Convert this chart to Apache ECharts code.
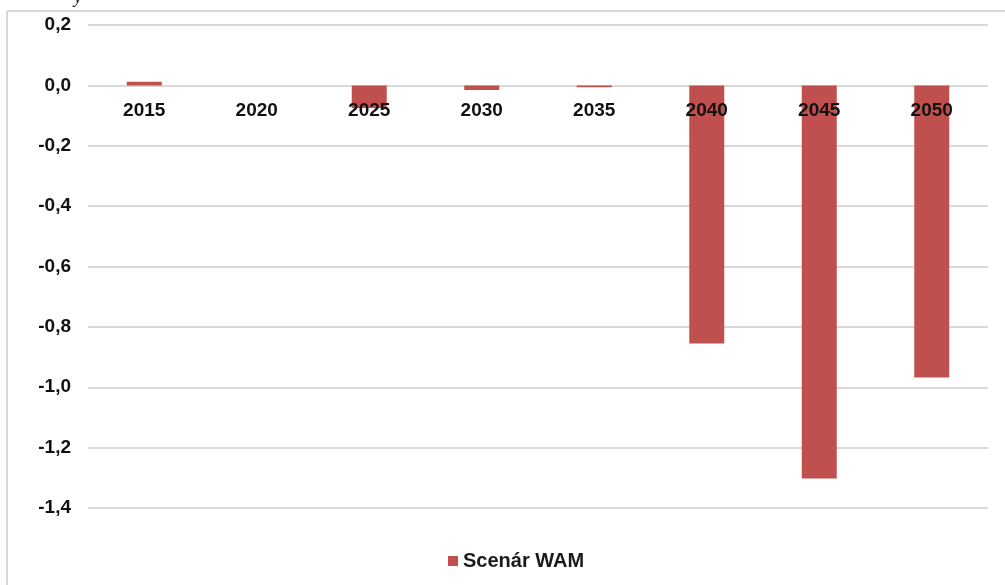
<!DOCTYPE html>
<html>
<head>
<meta charset="utf-8">
<script src="https://cdn.jsdelivr.net/npm/echarts@6/dist/echarts.min.js"></script>
<style>html,body{margin:0;padding:0;background:#fff;}#c{width:1005px;height:585px;}</style>
</head>
<body>
<div id="c"></div>
<script>
const categories = ['2015','2020','2025','2030','2035','2040','2045','2050'];
const wamValues = [0.012, 0.0, -0.075, -0.015, -0.006, -0.855, -1.302, -0.968];
const seriesName = 'Scenár WAM';
const yMin = -1.4, yMax = 0.2, yStep = 0.2;

const FONT = 'Liberation Sans, Arial, sans-serif';
const GRID_TOP = 25, GRID_BOTTOM = 77, H = 585;
const plotH = H - GRID_TOP - GRID_BOTTOM;
const zeroOffset = plotH * (yMax - 0) / (yMax - yMin);

const chart = echarts.init(document.getElementById('c'));
chart.setOption({
  animation: false,
  backgroundColor: '#fff',
  textStyle: { fontFamily: FONT },
  grid: { left: 88, right: 17, top: GRID_TOP, bottom: GRID_BOTTOM, containLabel: false },
  legend: {
    data: [seriesName],
    left: 443, top: 546,
    icon: 'rect', itemWidth: 10, itemHeight: 10, itemGap: 7,
    textStyle: { fontSize: 20, fontWeight: 'bold', color: '#1a1a1a', fontFamily: FONT }
  },
  xAxis: {
    type: 'category',
    data: categories,
    position: 'top',
    offset: -zeroOffset,
    z: 10,
    axisLine: { show: false },
    axisTick: { show: false },
    axisLabel: { inside: true, margin: 16, fontSize: 19, fontWeight: 'bold', color: '#111', fontFamily: FONT }
  },
  yAxis: {
    type: 'value',
    min: yMin, max: yMax, interval: yStep,
    axisLine: { show: false },
    axisTick: { show: false },
    splitLine: { lineStyle: { color: '#d9d9d9', width: 2 } },
    axisLabel: {
      margin: 17, fontSize: 19, fontWeight: 'bold', color: '#111',
      fontFamily: FONT,
      formatter: v => v.toFixed(1).replace('.', ',')
    }
  },
  graphic: [
    { type: 'line', shape: { x1: 7, y1: 11, x2: 1005, y2: 11 }, style: { stroke: '#d9d9d9', lineWidth: 2 }, silent: true },
    { type: 'line', shape: { x1: 7, y1: 11, x2: 7, y2: 585 }, style: { stroke: '#d9d9d9', lineWidth: 2 }, silent: true },
    { type: 'text', left: 74, top: -11, style: { text: 'y', font: 'italic 18px "Liberation Serif", serif', fill: '#222' }, silent: true }
  ],
  series: [{
    name: seriesName,
    type: 'bar',
    data: wamValues,
    barWidth: 35,
    z: 2,
    itemStyle: { color: '#C0504D' }
  }]
});
</script>
</body>
</html>
